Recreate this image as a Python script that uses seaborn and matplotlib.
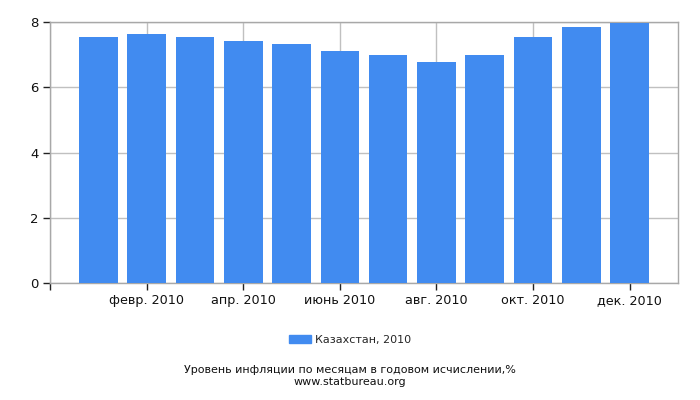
import pandas as pd
import matplotlib
matplotlib.use("Agg")
import matplotlib.pyplot as plt
import matplotlib.patches as mpatches
import seaborn as sns

# данные: инфляция по месяцам (годовое исчисление), %
months = ["янв. 2010", "февр. 2010", "март 2010", "апр. 2010", "май 2010", "июнь 2010",
          "июль 2010", "авг. 2010", "сент. 2010", "окт. 2010", "нояб. 2010", "дек. 2010"]
values = [7.55, 7.64, 7.55, 7.42, 7.33, 7.12, 7.0, 6.78, 7.0, 7.55, 7.85, 7.98]
series_name = "Казахстан, 2010"
y_ticks = [0, 2, 4, 6, 8]

df = pd.DataFrame({"month": months, "value": values})

bar_color = "#418BF0"
grid_color = "#C0C0C0"

sns.set_style("white")
plt.rcParams["font.family"] = ["DejaVu Sans"]

fig = plt.figure(figsize=(7, 4), dpi=100)
ax = fig.add_axes([50 / 700, 117 / 400, 628 / 700, 261 / 400])

sns.barplot(data=df, x="month", y="value", color=bar_color, saturation=1,
            width=0.8, linewidth=0, ax=ax, zorder=3)

ax.set_xlim(-1, len(months))
ax.set_ylim(0, 8)

tick_pos = [-1] + list(range(1, len(months), 2))
ax.set_xticks(tick_pos)
ax.set_xticklabels([""] + [months[i] for i in range(1, len(months), 2)], fontsize=9.2)
ax.set_yticks(y_ticks)
ax.set_yticklabels([str(v) for v in y_ticks], fontsize=9.5)

ax.grid(True, color=grid_color, linewidth=1, zorder=0)
ax.set_axisbelow(True)
for side in ["top", "right", "left", "bottom"]:
    ax.spines[side].set_color("#A8A8A8")
    ax.spines[side].set_linewidth(1)
ax.tick_params(axis="both", which="major", bottom=True, left=True, direction="out",
               length=5, width=1, color="#222222", labelcolor="#111111", pad=3)
ax.set_xlabel("")
ax.set_ylabel("")

handle = mpatches.Patch(color=bar_color, label=series_name)
fig.legend(handles=[handle], loc="center", bbox_to_anchor=(0.5, 1 - 340 / 400),
           frameon=False, fontsize=8, handlelength=2.0, handleheight=0.72,
           handletextpad=0.4)

fig.text(0.5, 1 - 370 / 400, "Уровень инфляции по месяцам в годовом исчислении,%",
         ha="center", va="center", fontsize=8, color="#111111")
fig.text(0.5, 1 - 382 / 400, "www.statbureau.org",
         ha="center", va="center", fontsize=8, color="#111111")

fig.savefig("out.png", dpi=100)
